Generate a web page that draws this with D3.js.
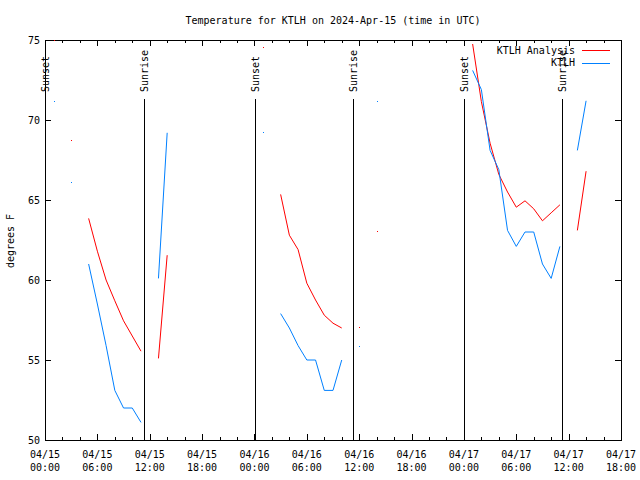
<!DOCTYPE html>
<html><head><meta charset="utf-8">
<script src="https://cdn.jsdelivr.net/npm/d3@7"></script>
<style>
body{margin:0;background:#fff;}
text{font-family:"DejaVu Sans Mono",monospace;font-size:10px;fill:#000;}
</style></head>
<body>
<svg id="c" width="640" height="480"></svg>
<script>
// hours after 2024-04-15 00:00 UTC; null marks a gap in the record
const hours = [1,null,3,null,5,6,7,8,9,10,11,null,13,14,null,25,null,27,28,29,30,31,32,33,34,null,36,null,38,null,49,50,51,52,53,54,55,56,57,58,59,null,61,62];
const analysisTemps = [75.0,null,68.75,null,63.85,61.8,60.0,58.7,57.45,56.5,55.55,null,55.1,61.55,null,74.55,null,65.35,62.8,61.9,59.8,58.75,57.8,57.3,57.0,null,57.05,null,63.05,null,74.75,71.15,68.55,66.6,65.5,64.55,64.95,64.45,63.7,64.2,64.7,null,63.1,66.8];
const obsTemps = [71.2,null,66.1,null,61.0,58.5,55.9,53.1,52.0,52.0,51.1,null,60.1,69.2,null,69.25,null,57.9,57.0,55.9,55.0,55.0,53.1,53.1,55.0,null,55.9,null,71.2,null,73.1,71.9,68.1,66.9,63.1,62.1,63.0,63.0,61.0,60.1,62.1,null,68.1,71.2];
const sunsetHours = [0.0, 24.05, 48.05];
const sunriseHours = [11.35, 35.3, 59.25];
const yTicks = [50,55,60,65,70,75];
const seriesNames = ["KTLH Analysis","KTLH"];
const seriesColors = ["#ff0000","#0080ff"];
const titleText = "Temperature for KTLH on 2024-Apr-15 (time in UTC)";
const yLabel = "degrees F";

const t0 = Date.UTC(2024,3,15,0,0);
const toDate = h => new Date(t0 + h*3600e3);
const svg = d3.select("#c");
const L=45,R=621,T=40,B=440;
const x = d3.scaleUtc().domain([toDate(0), toDate(66)]).range([L,R]);
const y = d3.scaleLinear().domain([50,75]).range([B,T]);

// title
svg.append("text").attr("x",333).attr("y",20).attr("dy","0.35em").attr("text-anchor","middle").text(titleText);
// y label
svg.append("text").attr("transform","translate(10,241) rotate(-90)").attr("dy","0.35em").attr("text-anchor","middle").text(yLabel);

const g = svg.append("g").attr("shape-rendering","crispEdges");
// ticks
const major = x.ticks(d3.utcHour.every(6));
const minor = x.ticks(d3.utcHour.every(2));
minor.forEach(d=>{
  const px = Math.round(x(d))+0.5;
  g.append("line").attr("x1",px).attr("x2",px).attr("y1",B).attr("y2",B-3).attr("stroke","#000");
  g.append("line").attr("x1",px).attr("x2",px).attr("y1",T).attr("y2",T+3).attr("stroke","#000");
});
major.forEach(d=>{
  const px = Math.round(x(d))+0.5;
  g.append("line").attr("x1",px).attr("x2",px).attr("y1",B).attr("y2",B-6).attr("stroke","#000");
  g.append("line").attr("x1",px).attr("x2",px).attr("y1",T).attr("y2",T+6).attr("stroke","#000");
  const t = svg.append("text").attr("x",x(d)).attr("text-anchor","middle");
  t.append("tspan").attr("x",x(d)).attr("y",458).text(d3.utcFormat("%m/%d")(d));
  t.append("tspan").attr("x",x(d)).attr("y",471).text(d3.utcFormat("%H:%M")(d));
});
yTicks.forEach(v=>{
  const py = Math.round(y(v))+0.5;
  g.append("line").attr("x1",L).attr("x2",L+6).attr("y1",py).attr("y2",py).attr("stroke","#000");
  g.append("line").attr("x1",R).attr("x2",R-6).attr("y1",py).attr("y2",py).attr("stroke","#000");
  svg.append("text").attr("x",40).attr("y",y(v)).attr("dy","0.35em").attr("text-anchor","end").text(v);
});

// sun lines
function sunLine(h,label){
  const px = Math.round(x(toDate(h)))+0.5;
  g.append("line").attr("x1",px).attr("x2",px).attr("y1",99).attr("y2",B).attr("stroke","#000");
  svg.append("text").attr("transform",`translate(${px},92) rotate(-90)`).attr("dy","0.35em").text(label);
}
sunsetHours.forEach(h=>sunLine(h,"Sunset"));
sunriseHours.forEach(h=>sunLine(h,"Sunrise"));

// data
const line = d3.line().defined(d=>d[1]!=null).x(d=>x(toDate(d[0]))).y(d=>y(d[1]));
[analysisTemps, obsTemps].forEach((vals,i)=>{
  const pts = hours.map((h,j)=>[h, h==null?null:vals[j]]);
  svg.append("path").attr("d",line(pts)).attr("fill","none").attr("stroke",seriesColors[i]).attr("stroke-width",1);
  // isolated points
  pts.forEach((p,j)=>{
    if(p[1]==null) return;
    const prev = pts[j-1], next = pts[j+1];
    if((!prev||prev[1]==null)&&(!next||next[1]==null)){
      svg.append("rect").attr("x",Math.round(x(toDate(p[0])))).attr("y",Math.round(y(p[1]))).attr("width",1).attr("height",1).attr("fill",seriesColors[i]);
    }
  });
});

// frame
g.append("rect").attr("x",L+0.5).attr("y",T+0.5).attr("width",R-L).attr("height",B-T).attr("fill","none").attr("stroke","#000");

// legend
seriesNames.forEach((n,i)=>{
  const ly = 50 + i*12.5;
  svg.append("text").attr("x",575).attr("y",ly).attr("dy","0.35em").attr("text-anchor","end").text(n);
  svg.append("line").attr("x1",582).attr("x2",610).attr("y1",Math.round(ly)+0.5).attr("y2",Math.round(ly)+0.5).attr("stroke",seriesColors[i]).attr("shape-rendering","crispEdges");
});
</script>
</body></html>
